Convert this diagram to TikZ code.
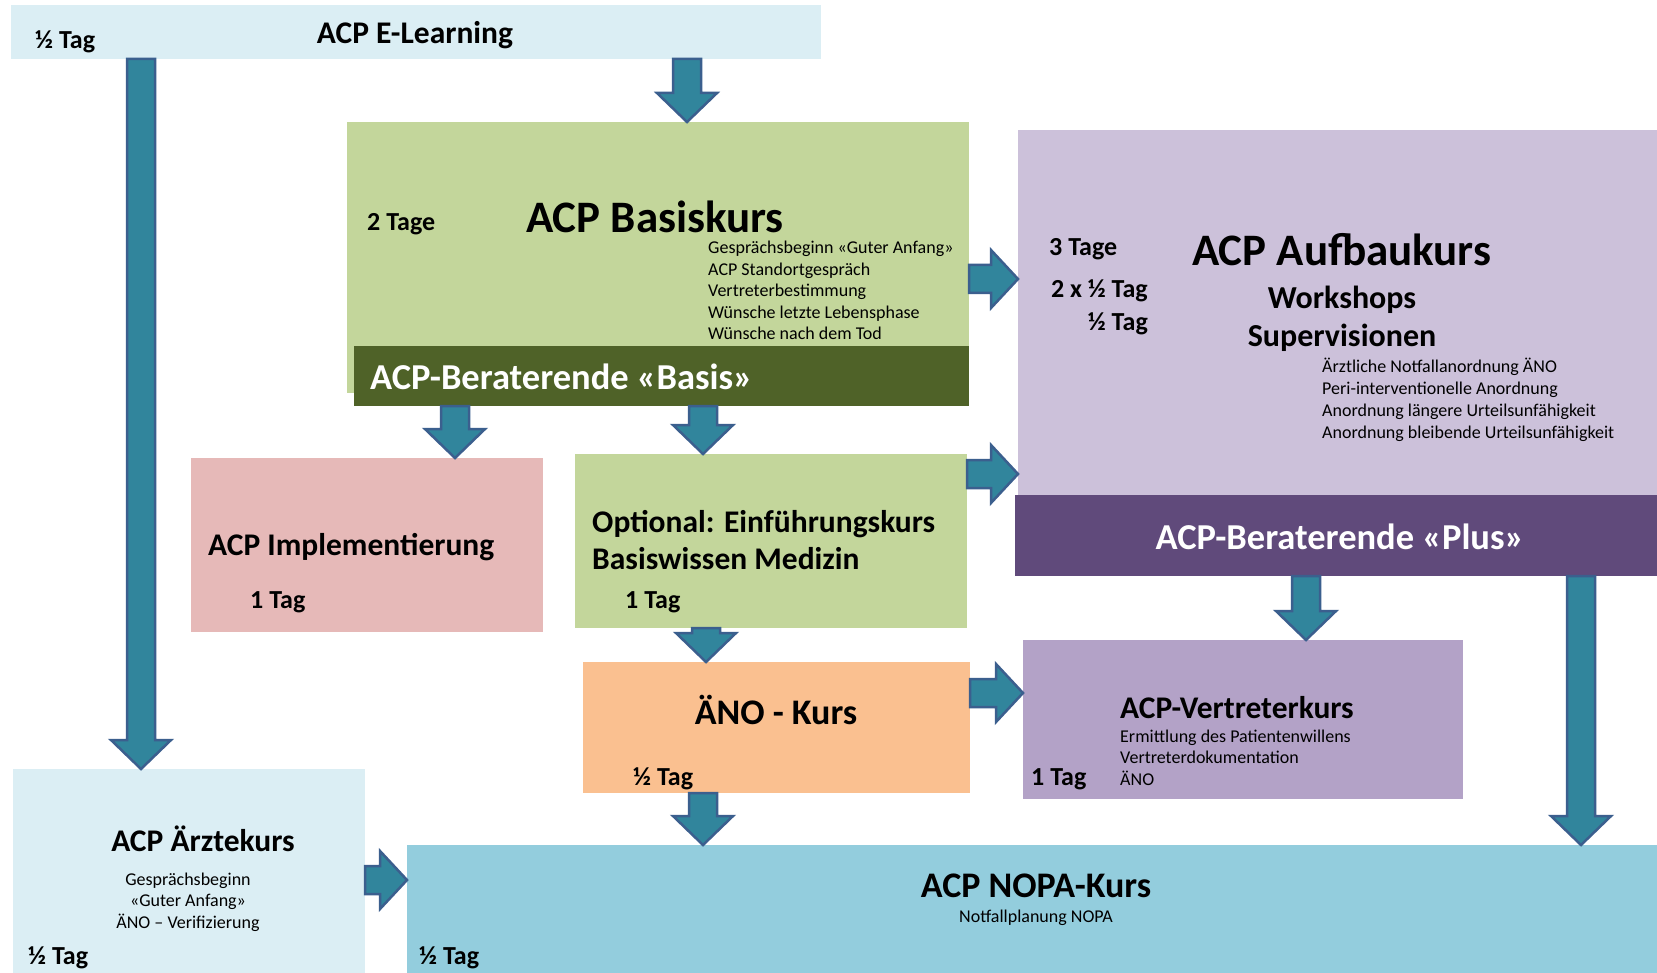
\documentclass[tikz,border=0pt]{standalone}
\usepackage{fontspec}
\setmainfont{Carlito}
\usetikzlibrary{calc}

\definecolor{elearnblue}{HTML}{DBEEF4}
\definecolor{basisgreen}{HTML}{C3D69B}
\definecolor{basisdark}{HTML}{4F6228}
\definecolor{aufbaulila}{HTML}{CCC1DA}
\definecolor{plusdark}{HTML}{604A7B}
\definecolor{implrose}{HTML}{E6B9B8}
\definecolor{aenoorange}{HTML}{FAC090}
\definecolor{vertrlila}{HTML}{B3A2C7}
\definecolor{nopablue}{HTML}{93CDDD}
\definecolor{arrowfill}{HTML}{31859C}
\definecolor{arrowline}{HTML}{3B5F8E}

\tikzset{
	box/.style={rectangle, inner sep=0pt, outer sep=0pt, anchor=north west},
	tagtxt/.style={font=\bfseries\fontsize{26}{31}\selectfont, inner sep=0pt},
	bigtitle/.style={font=\bfseries\fontsize{45}{54}\selectfont, inner sep=0pt},
	title/.style={font=\bfseries\fontsize{31.5}{38}\selectfont, inner sep=0pt},
	midtitle/.style={font=\bfseries\fontsize{36}{43}\selectfont, inner sep=0pt},
	subtitle/.style={font=\bfseries\fontsize{32}{38}\selectfont, inner sep=0pt},
	bartxt/.style={font=\bfseries\fontsize{36.5}{44}\selectfont, text=white, inner sep=0pt},
	small/.style={font=\fontsize{18}{21.5}\selectfont, inner sep=0pt},
	blockarrow/.style={fill=arrowfill, draw=arrowline, line width=2.5pt, line join=miter}
}

% block arrows: #1 start, #2 tip
\newcommand{\blockdown}[2]{%
	\draw[blockarrow] let \p1=#1, \p2=#2 in
		(\x1-14pt,\y1) -- (\x1+14pt,\y1) -- (\x1+14pt,\y2+29pt) -- (\x1+30pt,\y2+29pt)
		-- (\x1,\y2) -- (\x1-30pt,\y2+29pt) -- (\x1-14pt,\y2+29pt) -- cycle;}
\newcommand{\blockright}[2]{%
	\draw[blockarrow] let \p1=#1, \p2=#2 in
		(\x1,\y1+14pt) -- (\x2-27pt,\y1+14pt) -- (\x2-27pt,\y1+29pt) -- (\x2,\y1)
		-- (\x2-27pt,\y1-29pt) -- (\x2-27pt,\y1-14pt) -- (\x1,\y1-14pt) -- cycle;}

\begin{document}
\begin{tikzpicture}[x=1pt, y=-1pt, line join=round]
	\fill[white] (0,0) rectangle (1657,973);
	\useasboundingbox (0,0) rectangle (1657,973);

	% boxes
	\node[box, fill=elearnblue, minimum width=810, minimum height=54] (elearn) at (11,5) {};
	\node[box, fill=basisgreen, minimum width=622, minimum height=271] (basis) at (347,122) {};
	\node[box, fill=basisdark, minimum width=615, minimum height=60] (basisbar) at (354,346) {};
	\node[box, fill=aufbaulila, minimum width=639, minimum height=365] (aufbau) at (1018,130) {};
	\node[box, fill=plusdark, minimum width=642, minimum height=81] (plusbar) at (1015,495) {};
	\node[box, fill=implrose, minimum width=352, minimum height=174] (impl) at (191,458) {};
	\node[box, fill=basisgreen, minimum width=392, minimum height=174] (optional) at (575,454) {};
	\node[box, fill=aenoorange, minimum width=387, minimum height=131] (aeno) at (583,662) {};
	\node[box, fill=vertrlila, minimum width=440, minimum height=159] (vertreter) at (1023,640) {};
	\node[box, fill=elearnblue, minimum width=352, minimum height=204] (aerzte) at (13,769) {};
	\node[box, fill=nopablue, minimum width=1250, minimum height=128] (nopa) at (407,845) {};

	% texts
	\node[tagtxt, anchor=base west] (elearntag) at (35,49) {½ Tag};
	\node[title, anchor=base] (elearntxt) at (415,44) {ACP E-Learning};

	\node[tagtxt, anchor=base west] (basistag) at (367,231) {2 Tage};
	\node[bigtitle, anchor=base west] (basistxt) at (526,233) {ACP Basiskurs};
	\foreach \txt [count=\i] in {Gesprächsbeginn «Guter Anfang», ACP Standortgespräch,
		Vertreterbestimmung, Wünsche letzte Lebensphase, Wünsche nach dem Tod}
		\node[small, anchor=base west] (basisl\i) at (708, {254+(\i-1)*21.4}) {\txt};
	\node[bartxt, anchor=base west] (basisbartxt) at (370,389) {ACP-Beraterende «Basis»};

	\node[tagtxt, anchor=base west] (aufbautag1) at (1049,256) {3 Tage};
	\node[tagtxt, anchor=base east] (aufbautag2) at (1148,298) {2 x ½ Tag};
	\node[tagtxt, anchor=base east] (aufbautag3) at (1148,331) {½ Tag};
	\node[bigtitle, anchor=base west] (aufbautxt) at (1192,266) {ACP Aufbaukurs};
	\node[subtitle, anchor=base] (workshops) at (1342,309) {Workshops};
	\node[subtitle, anchor=base] (supervis) at (1342,347) {Supervisionen};
	\foreach \txt [count=\i] in {Ärztliche Notfallanordnung ÄNO, Peri-interventionelle Anordnung,
		Anordnung längere Urteilsunfähigkeit, Anordnung bleibende Urteilsunfähigkeit}
		\node[small, anchor=base west] (aufbaul\i) at (1322, {373+(\i-1)*21.8}) {\txt};
	\node[bartxt, anchor=base] (plusbartxt) at (1340,549) {ACP-Beraterende «Plus»};

	\node[title, anchor=base west] (impltxt) at (208,555) {ACP Implementierung};
	\node[tagtxt, anchor=base west] (impltag) at (250,608) {1 Tag};

	\node[title, anchor=base west] (opt1) at (592,532) {Optional: Einführungskurs};
	\node[title, anchor=base west] (opt2) at (592,569) {Basiswissen Medizin};
	\node[tagtxt, anchor=base west] (opttag) at (625,608) {1 Tag};

	\node[midtitle, anchor=base] (aenotxt) at (776,724) {ÄNO - Kurs};
	\node[tagtxt, anchor=base west] (aenotag) at (633,785) {½ Tag};

	\node[title, anchor=base west] (vertrtxt) at (1120,718) {ACP-Vertreterkurs};
	\foreach \txt [count=\i] in {Ermittlung des Patientenwillens, Vertreterdokumentation, ÄNO}
		\node[small, anchor=base west] (vertrl\i) at (1120, {742+(\i-1)*21.5}) {\txt};
	\node[tagtxt, anchor=base west] (vertrtag) at (1031,785) {1 Tag};

	\node[title, anchor=base] (aerztetxt) at (203,851) {ACP Ärztekurs};
	\foreach \txt [count=\i] in {Gesprächsbeginn, «Guter Anfang», ÄNO – Verifizierung}
		\node[small, anchor=base] (aerztel\i) at (188, {885+(\i-1)*21.5}) {\txt};
	\node[tagtxt, anchor=base west] (aerztetag) at (28,964) {½ Tag};

	\node[midtitle, anchor=base] (nopatxt) at (1036,897) {ACP NOPA-Kurs};
	\node[small, anchor=base] (nopasub) at (1036,922) {Notfallplanung NOPA};
	\node[tagtxt, anchor=base west] (nopatag) at (419,964) {½ Tag};

	% arrows
	\coordinate (c1) at (687,0);
	\coordinate (c2) at (141,0);
	\coordinate (c3) at (455,0);
	\coordinate (c4) at (703,0);
	\coordinate (c5) at (706,0);
	\coordinate (c6) at (1306,0);
	\coordinate (c7) at (1581,0);
	\coordinate (r1) at (0,279);
	\coordinate (r2) at (0,474);
	\coordinate (r3) at (0,693);
	\coordinate (r4) at (0,880);

	\blockdown{(elearn.south -| c1)}{(basis.north -| c1)}
	\blockdown{(elearn.south -| c2)}{(aerzte.north -| c2)}
	\blockright{(basis.east |- r1)}{(aufbau.west |- r1)}
	\blockdown{(basisbar.south -| c3)}{(impl.north -| c3)}
	\blockdown{(basisbar.south -| c4)}{(optional.north -| c4)}
	\blockright{(optional.east |- r2)}{(aufbau.west |- r2)}
	\blockdown{(optional.south -| c5)}{(aeno.north -| c5)}
	\blockright{(aeno.east |- r3)}{(vertreter.west |- r3)}
	\blockdown{(plusbar.south -| c6)}{(vertreter.north -| c6)}
	\blockdown{(plusbar.south -| c7)}{(nopa.north -| c7)}
	\blockdown{(aeno.south -| c4)}{(nopa.north -| c4)}
	\blockright{(aerzte.east |- r4)}{(nopa.west |- r4)}
\end{tikzpicture}
\end{document}
